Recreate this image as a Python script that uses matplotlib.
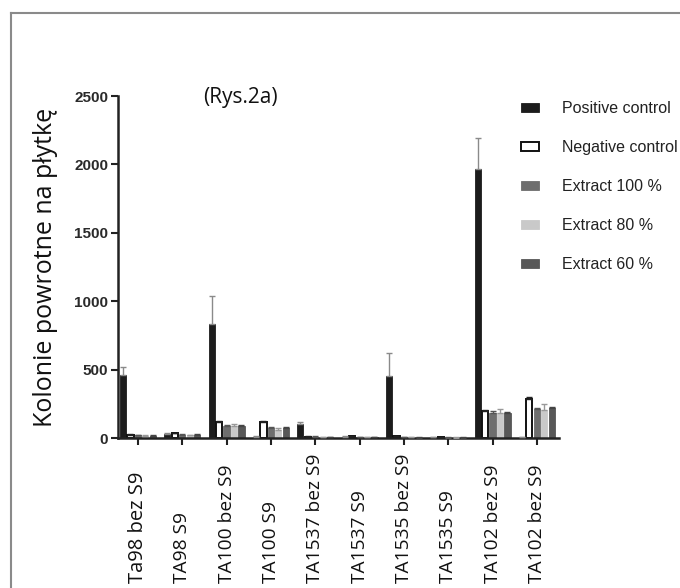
import matplotlib
matplotlib.use("Agg")
import matplotlib.pyplot as plt
from matplotlib.lines import Line2D
import numpy as np

categories = ["Ta98 bez S9", "TA98 S9", "TA100 bez S9", "TA100 S9", "TA1537 bez S9",
              "TA1537 S9", "TA1535 bez S9", "TA1535 S9", "TA102 bez S9", "TA102 bez S9"]
series_names = ["Positive control", "Negative control", "Extract 100 %", "Extract 80 %", "Extract 60 %"]

positive = [460, 30, 830, 10, 105, 10, 450, 5, 1965, 5]
positive_err = [60, 5, 205, 2, 10, 2, 175, 2, 225, 2]
negative = [25, 35, 115, 115, 10, 15, 15, 5, 198, 285]
negative_err = [5, 5, 8, 8, 3, 3, 3, 2, 10, 12]
ext100 = [20, 25, 88, 70, 8, 5, 5, 3, 185, 210]
ext100_err = [5, 5, 8, 8, 3, 2, 2, 2, 10, 10]
ext80 = [18, 20, 85, 55, 5, 5, 5, 3, 185, 205]
ext80_err = [5, 5, 15, 15, 3, 2, 2, 2, 25, 40]
ext60 = [18, 22, 88, 70, 5, 5, 3, 3, 183, 220]
ext60_err = [5, 5, 8, 8, 3, 2, 2, 2, 10, 10]

values = [positive, negative, ext100, ext80, ext60]
errors = [positive_err, negative_err, ext100_err, ext80_err, ext60_err]
faces = ["#1c1c1c", "white", "#6e6e6e", "#c9c9c9", "#585858"]
edges = ["#1c1c1c", "#111111", "#6e6e6e", "#c9c9c9", "#585858"]
ecolors = ["#8a8a8a", "#222222", "#555555", "#999999", "#444444"]

fig = plt.figure(figsize=(6.8, 5.88), dpi=100)
ax = fig.add_axes([118/680, 1-438/588, (559-118)/680, (438-96)/588])

x = np.arange(len(categories))
width = 0.14
step = 0.168
for k, (vals, errs) in enumerate(zip(values, errors)):
    pos = x + (k - 2) * step
    ax.bar(pos, vals, width=width, color=faces[k], edgecolor=edges[k],
           linewidth=1.4 if k == 1 else 0.6, label=series_names[k], zorder=2)
    ax.errorbar(pos, vals, yerr=[np.zeros(len(vals)), errs], fmt="none",
                ecolor=ecolors[k], elinewidth=1.0, capsize=2, capthick=1.0, zorder=3)

ax.set_xlim(-0.45, 9.5)
ax.set_ylim(0, 2500)
ax.set_yticks([0, 500, 1000, 1500, 2000, 2500])
ax.set_yticklabels(["0", "500", "1000", "1500", "2000", "2500"],
                   fontdict={"family": "Liberation Sans", "weight": "bold", "size": 11, "color": "#2a2a2a"})
ax.set_xticks(x)
ax.set_xticklabels([])
for s in ["top", "right"]:
    ax.spines[s].set_visible(False)
for s in ["left", "bottom"]:
    ax.spines[s].set_linewidth(1.8)
    ax.spines[s].set_color("#222222")
ax.tick_params(axis="both", length=5, width=1.5, color="#222222", pad=2)

xtr = ax.get_xaxis_transform()
for i, lab in enumerate(categories):
    ax.text(i, -0.424, lab, transform=xtr, rotation=90, ha="center", va="bottom",
            fontsize=14.5 if i == 0 else 13.8, family="Open Sans", color="#111111")

ax.set_ylabel("Kolonie powrotne na płytkę", family="Open Sans", fontsize=18, color="#111111")
ax.yaxis.set_label_coords(-0.136, 0.5)

fig.text(240/680, 1-98/588, "(Rys.2a)", family="Open Sans", fontsize=15, ha="center", va="center", color="#111111")

leg = fig.legend(*ax.get_legend_handles_labels(), loc="upper left",
                 bbox_to_anchor=(507/680, 1-87/588), frameon=False,
                 prop={"family": "Liberation Sans", "size": 11.5},
                 handlelength=1.13, handleheight=0.5, labelspacing=1.5, handletextpad=1.44)
for t in leg.get_texts():
    t.set_color("#222222")

fig.add_artist(Line2D([11/680, 11/680], [0, 1-13/588], color="#8a8a8a", lw=1.5, transform=fig.transFigure))
fig.add_artist(Line2D([11/680, 1], [1-13/588, 1-13/588], color="#8a8a8a", lw=1.5, transform=fig.transFigure))

fig.savefig("out.png", dpi=100)
